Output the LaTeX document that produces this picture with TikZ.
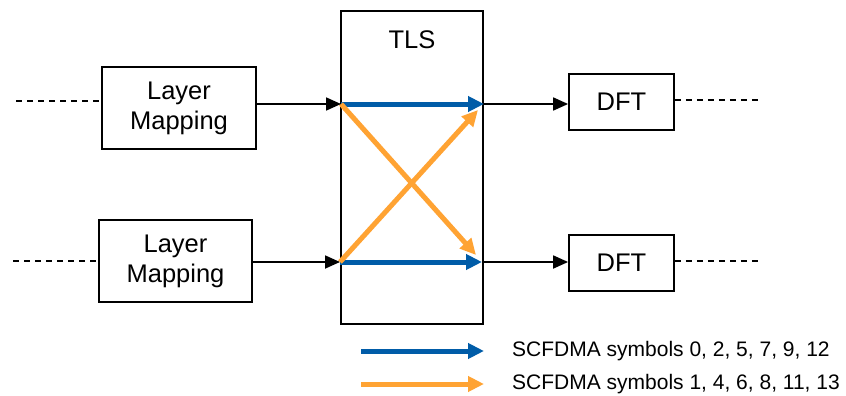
\documentclass[tikz,border=0pt]{standalone}
\usepackage{fontspec}
\setmainfont{Liberation Sans}
\usetikzlibrary{arrows.meta}
\definecolor{tlsblue}{RGB}{0,92,168}
\definecolor{tlsorange}{RGB}{255,163,51}
\begin{document}
\begin{tikzpicture}[x=1pt,y=-1pt,
  blockbox/.style={draw=black,line width=1.8pt,fill=white,inner sep=0pt,align=center,font=\fontsize{25.5}{30}\selectfont},
  conn/.style={draw=black,line width=1.8pt,-{Triangle[length=15pt,width=13pt]}},
  dashline/.style={draw=black,line width=1.7pt,dash pattern=on 6pt off 5pt},
  bluearrow/.style={draw=tlsblue,line width=5pt,-{Triangle[length=16pt,width=15pt]}},
  orangearrow/.style={draw=tlsorange,line width=5pt,-{Triangle[length=16pt,width=15pt]}},
  legendtext/.style={anchor=west,inner sep=0pt,font=\fontsize{21}{24}\selectfont}]
\useasboundingbox (0,0) rectangle (846,396);
% blocks
\node[blockbox,minimum width=154pt,minimum height=82pt] (lm1) at (179,108) {Layer\\Mapping};
\node[blockbox,minimum width=153pt,minimum height=82pt] (lm2) at (175.5,261) {Layer\\Mapping};
\node[blockbox,minimum width=142pt,minimum height=313pt] (tls) at (412,167.5) {};
\node[inner sep=0pt,font=\fontsize{25.5}{30}\selectfont] (tlslabel) at (412,40) {TLS};
\node[blockbox,minimum width=105pt,minimum height=56pt] (dft1) at (621.5,102) {DFT};
\node[blockbox,minimum width=105pt,minimum height=56pt] (dft2) at (621.5,263) {DFT};
% coordinates
\coordinate (in1) at (341,104);
\coordinate (in2) at (340,262);
\coordinate (out1) at (484,104);
\coordinate (out2) at (482,262);
\coordinate (ox1) at (476,255);
\coordinate (ox2) at (478,110);
\coordinate (dl1) at (16,101);
\coordinate (dl2) at (13,261);
\coordinate (dr1) at (762,100);
\coordinate (dr2) at (762,261);
% dashed continuation lines
\draw[dashline] (dl1) -- (lm1.west |- dl1);
\draw[dashline] (dl2) -- (lm2.west |- dl2);
\draw[dashline] (dft1.east |- dr1) -- (dr1);
\draw[dashline] (dft2.east |- dr2) -- (dr2);
% black connectors
\draw[conn] (lm1.east |- in1) -- (in1);
\draw[conn] (lm2.east |- in2) -- (in2);
\draw[conn] (out1) -- (dft1.west |- out1);
\draw[conn] (out2) -- (dft2.west |- out2);
% TLS mapping
\draw[bluearrow] (in1) -- (out1);
\draw[bluearrow] (in2) -- (out2);
\draw[orangearrow] (in1) -- (ox1);
\draw[orangearrow] (in2) -- (ox2);
% legend
\coordinate (lbs) at (361,351);
\coordinate (lbe) at (484,351);
\coordinate (los) at (361,384);
\coordinate (loe) at (484,384);
\draw[bluearrow] (lbs) -- (lbe);
\draw[orangearrow] (los) -- (loe);
\node[legendtext] (lbt) at (512,351) {SCFDMA symbols 0, 2, 5, 7, 9, 12};
\node[legendtext] (lot) at (512,384) {SCFDMA symbols 1, 4, 6, 8, 11, 13};
\end{tikzpicture}
\end{document}
